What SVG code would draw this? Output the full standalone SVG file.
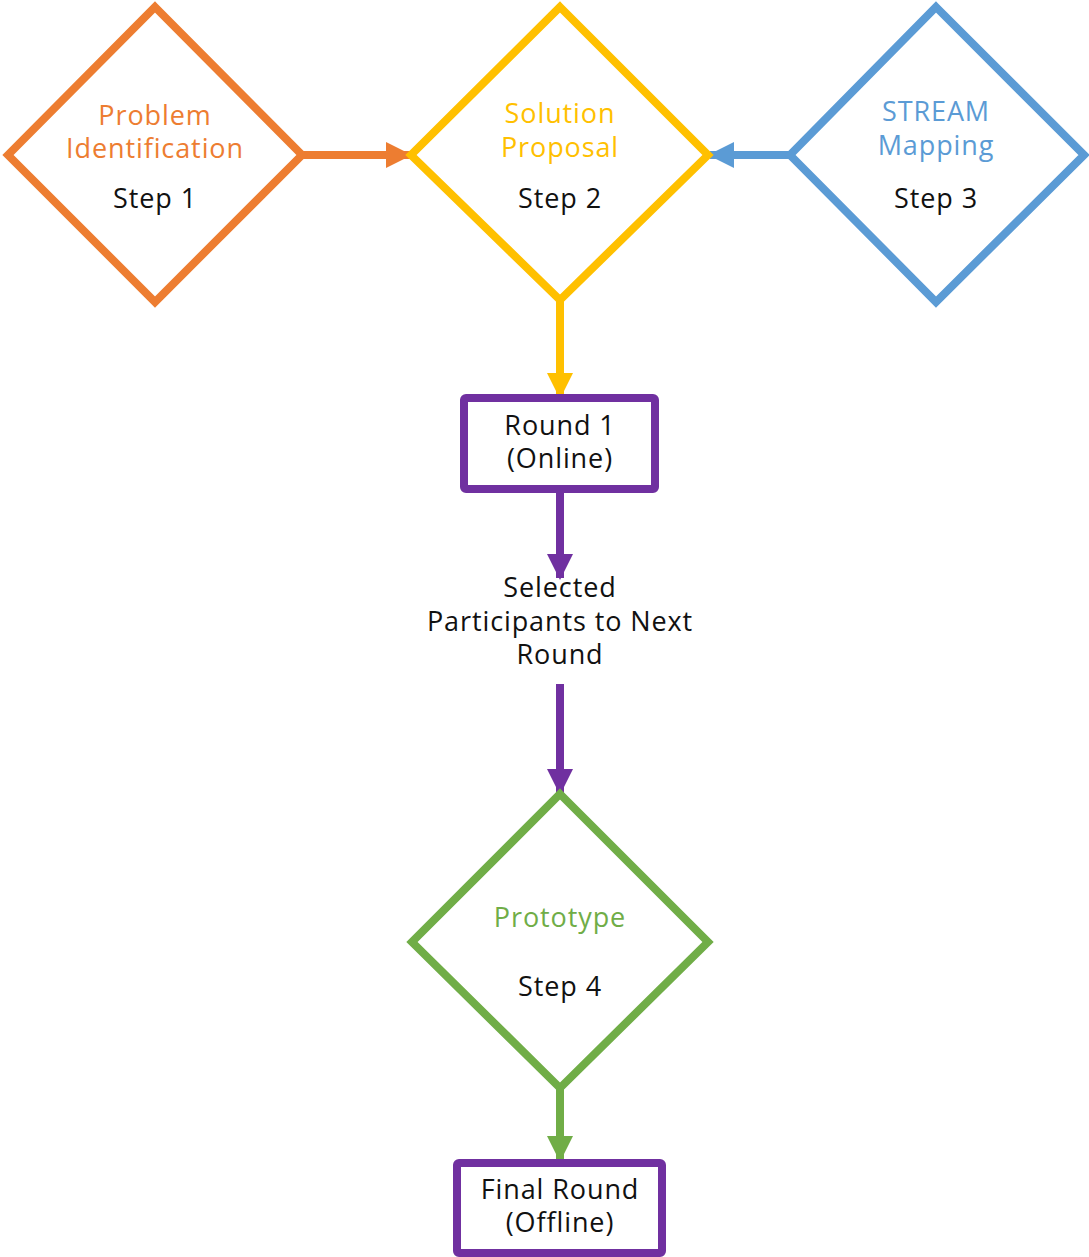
<svg xmlns="http://www.w3.org/2000/svg" width="1089" height="1257" viewBox="0 0 1089 1257">
<style>
.t{font-family:"Open Sans","Noto Sans",sans-serif;font-size:27px;letter-spacing:0.9px;text-anchor:middle}
.k{fill:#111}
.shape{fill:#fff;stroke-width:8;stroke-linejoin:miter}
.line{fill:none;stroke-width:8}
</style>
<defs>
<marker id="aO" markerWidth="28" markerHeight="26" refX="24" refY="13" orient="auto" markerUnits="userSpaceOnUse"><path d="M0,0 L26,13 L0,26 Z" fill="#ED7D31"/></marker>
<marker id="aB" markerWidth="28" markerHeight="26" refX="24" refY="13" orient="auto" markerUnits="userSpaceOnUse"><path d="M0,0 L26,13 L0,26 Z" fill="#5B9BD5"/></marker>
<marker id="aY" markerWidth="28" markerHeight="26" refX="24" refY="13" orient="auto" markerUnits="userSpaceOnUse"><path d="M0,0 L26,13 L0,26 Z" fill="#FFC000"/></marker>
<marker id="aP" markerWidth="28" markerHeight="26" refX="24" refY="13" orient="auto" markerUnits="userSpaceOnUse"><path d="M0,0 L26,13 L0,26 Z" fill="#7030A0"/></marker>
<marker id="aG" markerWidth="28" markerHeight="26" refX="24" refY="13" orient="auto" markerUnits="userSpaceOnUse"><path d="M0,0 L26,13 L0,26 Z" fill="#70AD47"/></marker>
</defs>
<rect width="1089" height="1257" fill="#fff"/>
<g id="connectors">
<line class="line" x1="302" y1="155" x2="410" y2="155" stroke="#ED7D31" marker-end="url(#aO)"/>
<line class="line" x1="790" y1="155" x2="710" y2="155" stroke="#5B9BD5" marker-end="url(#aB)"/>
<line class="line" x1="560" y1="300" x2="560" y2="397" stroke="#FFC000" marker-end="url(#aY)"/>
<line class="line" x1="560" y1="490" x2="560" y2="578" stroke="#7030A0" marker-end="url(#aP)"/>
<line class="line" x1="560" y1="684" x2="560" y2="793" stroke="#7030A0" marker-end="url(#aP)"/>
<line class="line" x1="560" y1="1088" x2="560" y2="1160" stroke="#70AD47" marker-end="url(#aG)"/>
</g>
<g id="step1">
<polygon class="shape" points="155,7 302,155 155,302 8,155" stroke="#ED7D31"/>
<text class="t" x="155" y="125" fill="#ED7D31">Problem</text>
<text class="t" x="155" y="158" fill="#ED7D31">Identification</text>
<text class="t k" x="155" y="208">Step 1</text>
</g>
<g id="step2">
<polygon class="shape" points="560,7 708,155 560,300 411,155" stroke="#FFC000"/>
<text class="t" x="560" y="123" fill="#FFC000">Solution</text>
<text class="t" x="560" y="157" fill="#FFC000">Proposal</text>
<text class="t k" x="560" y="208">Step 2</text>
</g>
<g id="step3">
<polygon class="shape" points="936,7 1084,155 936,302 790,155" stroke="#5B9BD5"/>
<text class="t" x="936" y="121" fill="#5B9BD5">STREAM</text>
<text class="t" x="936" y="155" fill="#5B9BD5">Mapping</text>
<text class="t k" x="936" y="208">Step 3</text>
</g>
<g id="round1">
<rect class="shape" x="464" y="398" width="191" height="91" rx="2" stroke="#7030A0"/>
<text class="t k" x="560" y="435">Round 1</text>
<text class="t k" x="560" y="468">(Online)</text>
</g>
<g id="selected">
<text class="t k" x="560" y="597">Selected</text>
<text class="t k" x="560" y="631">Participants to Next</text>
<text class="t k" x="560" y="664">Round</text>
</g>
<g id="step4">
<polygon class="shape" points="560,794 708,942 560,1088 412,942" stroke="#70AD47"/>
<text class="t" x="560" y="927" fill="#70AD47">Prototype</text>
<text class="t k" x="560" y="996">Step 4</text>
</g>
<g id="final">
<rect class="shape" x="457" y="1163" width="205" height="90" rx="2" stroke="#7030A0"/>
<text class="t k" x="560" y="1199">Final Round</text>
<text class="t k" x="560" y="1232">(Offline)</text>
</g>
</svg>
